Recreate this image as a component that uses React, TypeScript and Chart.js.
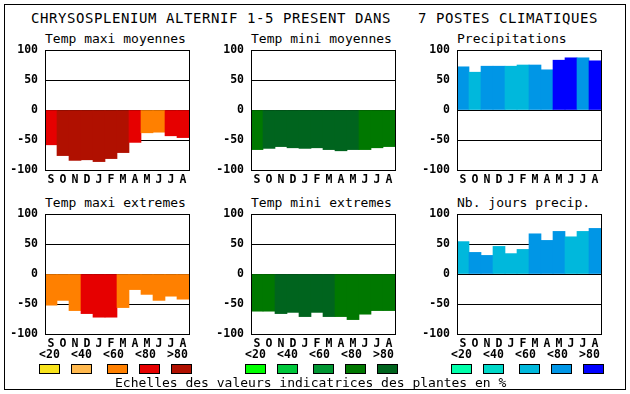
import React, { useEffect, useRef } from 'react';
import { Chart, registerables } from 'chart.js';

Chart.register(...registerables);

// ---------- data ----------
const MONTHS = ['S', 'O', 'N', 'D', 'J', 'F', 'M', 'A', 'M', 'J', 'J', 'A'];
const Y_TICKS = [-100, -50, 0, 50, 100];
const LEGEND_LABELS = ['<20', '<40', '<60', '<80', '>80'];

const TITLE = 'CHRYSOSPLENIUM ALTERNIF 1-5 PRESENT DANS   7 POSTES CLIMATIQUES';
const FOOTER = 'Echelles des valeurs indicatrices des plantes en %';

const HOT_COLORS = ['#F8E31C', '#FFB84D', '#FF8000', '#E60000', '#B01000'];
const GREEN_COLORS = ['#00FF00', '#00C83C', '#009632', '#007800', '#00641E'];
const BLUE_COLORS = ['#00FFAA', '#00D8C8', '#00B8DC', '#0096E6', '#0000FF'];

const MAXI_MOY = [-58, -76, -84, -83, -86, -81, -71, -54, -38, -37, -43, -46];
const MAXI_MOY_CLS = [3, 4, 4, 4, 4, 4, 4, 3, 2, 2, 3, 3];

const MINI_MOY = [-66, -64, -61, -63, -64, -63, -66, -68, -66, -66, -63, -61];
const MINI_MOY_CLS = [3, 4, 4, 4, 4, 4, 4, 4, 4, 3, 3, 3];

const PRECIP = [72, 63, 73, 73, 73, 75, 75, 67, 83, 87, 87, 82];
const PRECIP_CLS = [3, 2, 3, 3, 2, 2, 3, 3, 4, 4, 3, 4];

const MAXI_EXT = [-52, -44, -61, -66, -72, -72, -56, -26, -34, -44, -37, -42];
const MAXI_EXT_CLS = [2, 2, 2, 3, 3, 3, 2, 2, 2, 2, 2, 2];

const MINI_EXT = [-62, -62, -66, -64, -71, -64, -71, -71, -76, -67, -61, -61];
const MINI_EXT_CLS = [3, 3, 4, 4, 4, 4, 4, 3, 3, 3, 3, 3];

const NB_JOURS = [54, 36, 31, 46, 34, 41, 67, 56, 71, 62, 71, 76];
const NB_JOURS_CLS = [2, 3, 3, 2, 2, 2, 3, 3, 3, 2, 2, 3];

// ---------- layout ----------
const FONT_FAMILY = '"DejaVu Sans Mono", monospace';
const PLOT_W = 144;
const PLOT_H = 120;
const AXIS_W = 40;
const PAD_TOP = 1;
const PAD_RIGHT = 4;
const XAXIS_H = 20;
const COL_X = [45, 251, 457];
const ROW_Y = [50, 214];
const LEGEND_LABEL_X = [39, 71, 103, 135, 167];
const LEGEND_SWATCH_X = [39, 71, 107, 139, 171];

type PanelDef = {
  title: string;
  values: number[];
  classes: number[];
  palette: string[];
  col: number;
  row: number;
};

const PANELS: PanelDef[] = [
  { title: 'Temp maxi moyennes', values: MAXI_MOY, classes: MAXI_MOY_CLS, palette: HOT_COLORS, col: 0, row: 0 },
  { title: 'Temp mini moyennes', values: MINI_MOY, classes: MINI_MOY_CLS, palette: GREEN_COLORS, col: 1, row: 0 },
  { title: 'Precipitations', values: PRECIP, classes: PRECIP_CLS, palette: BLUE_COLORS, col: 2, row: 0 },
  { title: 'Temp maxi extremes', values: MAXI_EXT, classes: MAXI_EXT_CLS, palette: HOT_COLORS, col: 0, row: 1 },
  { title: 'Temp mini extremes', values: MINI_EXT, classes: MINI_EXT_CLS, palette: GREEN_COLORS, col: 1, row: 1 },
  { title: 'Nb. jours precip.', values: NB_JOURS, classes: NB_JOURS_CLS, palette: BLUE_COLORS, col: 2, row: 1 },
];

const framePlugin = {
  id: 'plotFrame',
  afterDraw(chart: any) {
    const { ctx, chartArea: a } = chart;
    ctx.save();
    ctx.strokeStyle = '#000';
    ctx.lineWidth = 1;
    ctx.strokeRect(
      Math.round(a.left) + 0.5,
      Math.round(a.top) + 0.5,
      Math.round(a.right - a.left),
      Math.round(a.bottom - a.top)
    );
    ctx.restore();
  },
};

function makeConfig(def: PanelDef): any {
  const tickFont = { family: FONT_FAMILY, size: 11.5, weight: 'bold', lineHeight: '14px' };
  return {
    type: 'bar',
    data: {
      labels: MONTHS,
      datasets: [
        {
          data: def.values,
          backgroundColor: def.classes.map((c) => def.palette[c]),
          borderWidth: 0,
          barPercentage: 1,
          categoryPercentage: 1,
        },
      ],
    },
    options: {
      responsive: false,
      maintainAspectRatio: false,
      animation: false,
      devicePixelRatio: 1,
      events: [],
      layout: { padding: { top: PAD_TOP, right: PAD_RIGHT, left: 0, bottom: 0 } },
      plugins: {
        legend: { display: false },
        tooltip: { enabled: false },
        title: { display: false },
      },
      scales: {
        x: {
          type: 'category',
          offset: true,
          grid: { display: false, drawTicks: false },
          border: { display: false },
          ticks: { color: '#000', font: tickFont, padding: 3, autoSkip: false, maxRotation: 0, minRotation: 0 },
          afterFit: (s: any) => {
            s.height = XAXIS_H;
          },
        },
        y: {
          type: 'linear',
          min: -100,
          max: 100,
          z: 1,
          afterBuildTicks: (s: any) => {
            s.ticks = Y_TICKS.map((v) => ({ value: v }));
          },
          ticks: { color: '#000', font: tickFont, padding: 7 },
          grid: { color: '#000', lineWidth: 1, drawTicks: false },
          border: { display: true, color: '#000', width: 1 },
          afterFit: (s: any) => {
            s.width = AXIS_W;
          },
        },
      },
    },
    plugins: [framePlugin],
  };
}

function Panel({ def }: { def: PanelDef }) {
  const ref = useRef<HTMLCanvasElement | null>(null);
  const plotLeft = COL_X[def.col];
  const plotTop = ROW_Y[def.row];

  useEffect(() => {
    const canvas = ref.current;
    if (!canvas) return;
    let cw = AXIS_W + PLOT_W + PAD_RIGHT;
    let ch = 8 + PLOT_H + XAXIS_H;
    canvas.width = cw;
    canvas.height = ch;
    let chart = new Chart(canvas, makeConfig(def));
    let a = chart.chartArea;
    const dw = Math.round(PLOT_W - (a.right - a.left));
    const dh = Math.round(PLOT_H - (a.bottom - a.top));
    if (dw !== 0 || dh !== 0) {
      chart.destroy();
      cw += dw;
      ch += dh;
      canvas.width = cw;
      canvas.height = ch;
      canvas.style.width = cw + 'px';
      canvas.style.height = ch + 'px';
      chart = new Chart(canvas, makeConfig(def));
      a = chart.chartArea;
    }
    canvas.style.position = 'absolute';
    canvas.style.left = plotLeft - Math.round(a.left) + 'px';
    canvas.style.top = plotTop - Math.round(a.top) + 'px';
    return () => chart.destroy();
  }, []);

  return (
    <>
      <div
        style={{
          position: 'absolute',
          left: plotLeft,
          top: plotTop - 18,
          font: `13px ${FONT_FAMILY}`,
          lineHeight: '13px',
          whiteSpace: 'pre',
          color: '#000',
        }}
      >
        {def.title}
      </div>
      <canvas ref={ref} style={{ position: 'absolute', left: plotLeft - AXIS_W, top: plotTop - 8 }} />
    </>
  );
}

function LegendRow({ col, palette }: { col: number; palette: string[] }) {
  const dx = COL_X[col] - COL_X[0];
  return (
    <>
      {LEGEND_LABELS.map((lab, i) => (
        <div
          key={'l' + i}
          style={{
            position: 'absolute',
            left: LEGEND_LABEL_X[i] + dx,
            top: 348,
            width: 21,
            textAlign: 'center',
            font: `bold 11.5px ${FONT_FAMILY}`,
            lineHeight: '12px',
            whiteSpace: 'pre',
            color: '#000',
          }}
        >
          {lab}
        </div>
      ))}
      {palette.map((c, i) => (
        <div
          key={'s' + i}
          style={{
            position: 'absolute',
            left: LEGEND_SWATCH_X[i] + dx,
            top: 364,
            width: 21,
            height: 10,
            boxSizing: 'border-box',
            border: '1px solid #000',
            background: c,
          }}
        />
      ))}
    </>
  );
}

export default function App() {
  return (
    <div
      style={{
        position: 'absolute',
        left: 0,
        top: 0,
        width: 630,
        height: 394,
        background: '#fff',
        overflow: 'hidden',
      }}
    >
      <div
        style={{
          position: 'absolute',
          left: 4,
          top: 4,
          width: 622,
          height: 386,
          boxSizing: 'border-box',
          border: '1px solid #000',
        }}
      />
      <div
        style={{
          position: 'absolute',
          left: 31,
          top: 11,
          font: `14px ${FONT_FAMILY}`,
          letterSpacing: '0.57px',
          lineHeight: '14px',
          whiteSpace: 'pre',
          color: '#000',
        }}
      >
        {TITLE}
      </div>
      {PANELS.map((p, i) => (
        <Panel key={i} def={p} />
      ))}
      <LegendRow col={0} palette={HOT_COLORS} />
      <LegendRow col={1} palette={GREEN_COLORS} />
      <LegendRow col={2} palette={BLUE_COLORS} />
      <div
        style={{
          position: 'absolute',
          left: 115,
          top: 376,
          font: `13px ${FONT_FAMILY}`,
          lineHeight: '13px',
          whiteSpace: 'pre',
          color: '#000',
        }}
      >
        {FOOTER}
      </div>
    </div>
  );
}
